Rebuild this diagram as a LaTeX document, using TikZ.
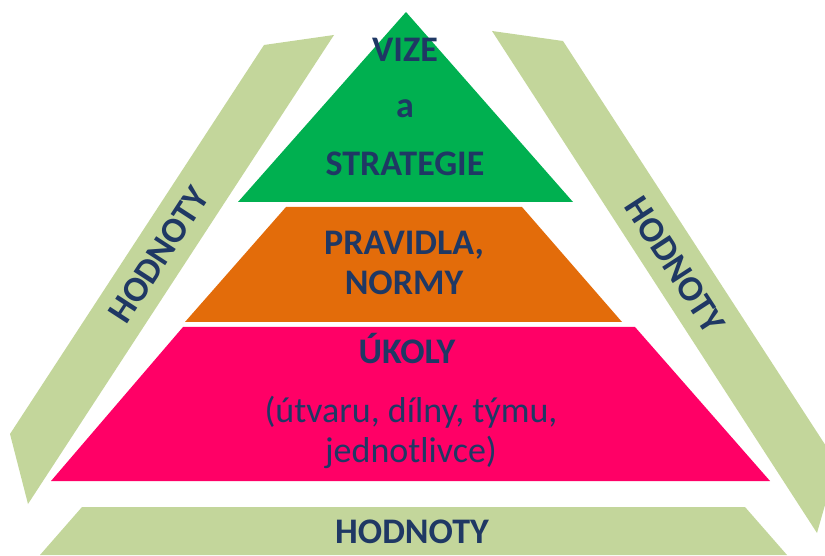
\documentclass[tikz,border=0pt]{standalone}
\usepackage{fontspec}
\setmainfont{Carlito}
\usetikzlibrary{positioning}

\definecolor{vizegreen}{HTML}{00B050}
\definecolor{pravorange}{HTML}{E36C0A}
\definecolor{ukolpink}{HTML}{FF0066}
\definecolor{hodnotygreen}{HTML}{C3D69B}
\definecolor{navytext}{HTML}{1F3864}

\begin{document}
\begin{tikzpicture}
[
  x=1pt, y=1pt,
  band/.style={fill=hodnotygreen},
  layer/.style={draw=none},
  caption/.style={text=navytext, inner sep=0pt, anchor=base,
    font=\fontsize{36}{40}\selectfont\bfseries},
  subcaption/.style={caption, font=\fontsize{36}{40}\selectfont}
]
 \useasboundingbox (0,0) rectangle (825,555);
 \begin{scope}
  \clip (0,0) rectangle (825,555);
  % hodnoty bands
  \fill[band] (264,510) -- (334,520) -- (28,51) -- (10,121) -- cycle;
  \fill[band] (492,524) -- (563,514) -- (837,92) -- (817,22) -- cycle;
  \fill[band] (82,48) -- (745,48) -- (787,0) -- (40,0) -- cycle;
  % pyramid
  \fill[vizegreen] (406,543) -- (573,353) -- (238,353) -- cycle;
  \fill[pravorange] (286,348) -- (522,348) -- (622,233) -- (185,233) -- cycle;
  \fill[ukolpink] (183,228) -- (635,228) -- (770,74) -- (51,74) -- cycle;
 \end{scope}

 \node[caption] (vize) at (405,493) {VIZE};
 \node[caption, below=56pt of vize.base, anchor=base] (a) {a};
 \node[caption, below=58pt of a.base, anchor=base] (strategie) {STRATEGIE};

 \node[caption] (pravidla) at (404,300) {PRAVIDLA,};
 \node[caption, below=40pt of pravidla.base, anchor=base] (normy) {NORMY};

 \node[caption] (ukoly) at (407,192) {ÚKOLY};
 \node[subcaption] (utvaru) at (411,133) {(útvaru, dílny, týmu,};
 \node[subcaption, below=40pt of utvaru.base, anchor=base] (jednotlivce) {jednotlivce)};

 \node[caption, anchor=center, rotate=57] (hodleft) at (159,300) {HODNOTY};
 \node[caption, anchor=center, rotate=-57] (hodright) at (675,290) {HODNOTY};
 \node[caption] (hodbottom) at (412,12) {HODNOTY};
\end{tikzpicture}
\end{document}
